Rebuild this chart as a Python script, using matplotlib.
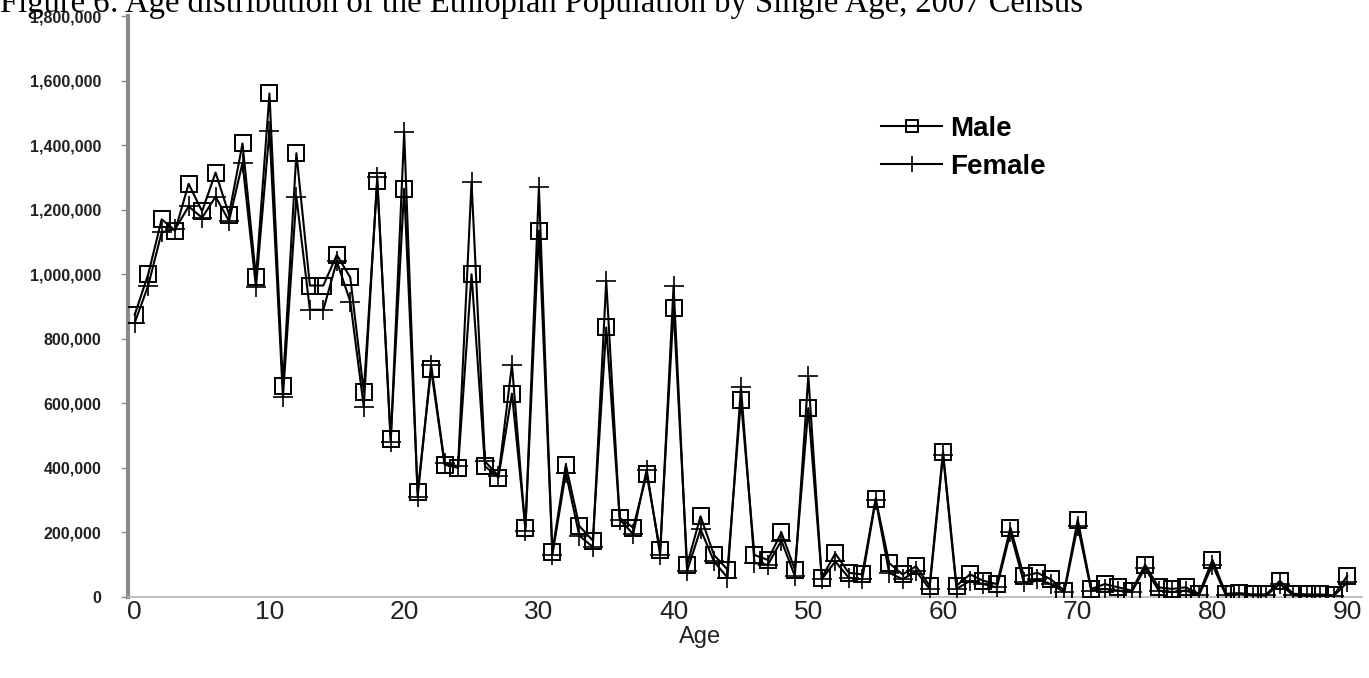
import matplotlib.pyplot as plt
from matplotlib.ticker import FuncFormatter

# Single-year ages 0..90
ages = list(range(0, 91))

male = [875, 1000, 1170, 1135, 1280, 1195, 1315, 1185, 1405, 990,
        1560, 655, 1375, 965, 965, 1060, 990, 635, 1290, 490,
        1265, 325, 705, 410, 400, 1000, 405, 370, 630, 215,
        1135, 140, 410, 220, 175, 835, 245, 215, 380, 145,
        895, 100, 250, 130, 85, 610, 130, 115, 200, 85,
        585, 60, 135, 75, 70, 305, 105, 70, 95, 35,
        450, 35, 70, 50, 40, 215, 65, 75, 55, 20,
        240, 25, 40, 30, 20, 100, 30, 25, 30, 10,
        115, 10, 12, 8, 8, 50, 10, 8, 8, 5,
        65]

female = [850, 965, 1130, 1140, 1210, 1175, 1240, 1165, 1345, 960,
          1445, 620, 1240, 890, 890, 1040, 915, 590, 1300, 480,
          1440, 310, 720, 415, 405, 1285, 420, 375, 720, 205,
          1270, 130, 385, 190, 155, 980, 240, 195, 395, 130,
          965, 80, 210, 110, 60, 650, 105, 100, 175, 65,
          685, 55, 110, 60, 55, 300, 75, 55, 80, 25,
          440, 25, 50, 40, 30, 200, 45, 55, 40, 15,
          220, 20, 25, 20, 15, 90, 20, 15, 20, 5,
          100, 5, 8, 5, 5, 40, 5, 4, 4, 3,
          45]

male = [v * 1000 for v in male]
female = [v * 1000 for v in female]

W, H = 1369, 678
fig = plt.figure(figsize=(W / 100, H / 100), dpi=100)
ax = fig.add_axes([128 / W, 81 / H, (1362 - 128) / W, (597 - 16) / H])

ax.plot(ages, female, color='black', lw=1.5, marker='+', markersize=15,
        markeredgewidth=1.2, label='Female', zorder=3)
ax.plot(ages, male, color='black', lw=1.5, marker='s', markersize=11,
        markerfacecolor='none', markeredgewidth=1.4, label='Male', zorder=4)

ax.set_xlim(-0.5, 91.1)
ax.set_ylim(0, 1800000)
ax.set_xticks(range(0, 91, 10))
ax.set_yticks(range(0, 1800001, 200000))
ax.yaxis.set_major_formatter(FuncFormatter(lambda v, p: f'{int(v):,}'))

for s in ['top', 'right']:
    ax.spines[s].set_visible(False)
ax.spines['left'].set_color('#8a8a8a')
ax.spines['left'].set_linewidth(3)
ax.spines['bottom'].set_color('#b5b5b5')
ax.spines['bottom'].set_linewidth(1.2)

ax.tick_params(axis='y', length=5, width=1, color='#8a8a8a', pad=14,
               labelsize=11.5, labelcolor='#222222')
for t in ax.get_yticklabels():
    t.set_fontweight('bold')
    t.set_family('Liberation Sans')
ax.tick_params(axis='x', length=0, pad=2, labelsize=19, labelcolor='#222222')
for t in ax.get_xticklabels():
    t.set_family('Liberation Sans')

fig.text(700 / W, 1 - 637 / H, 'Age', ha='center', va='center',
         fontsize=17, family='Liberation Sans', color='#222222')

fig.text(0.0, 1 - 12 / H,
         'Figure 6: Age distribution of the Ethiopian Population by Single Age, 2007 Census',
         ha='left', va='baseline', fontsize=23.5, family='Liberation Serif')

handles, labels = ax.get_legend_handles_labels()
leg = ax.legend(handles[::-1], labels[::-1], loc='upper left',
                bbox_to_anchor=(881 / W, 1 - 116 / H),
                bbox_transform=fig.transFigure, frameon=False,
                borderpad=0, borderaxespad=0,
                prop={'family': 'Liberation Sans', 'weight': 'bold', 'size': 20},
                handlelength=2.2, handletextpad=0.3, labelspacing=0.42,
                markerscale=0.8)

fig.savefig('out.png', dpi=100)
